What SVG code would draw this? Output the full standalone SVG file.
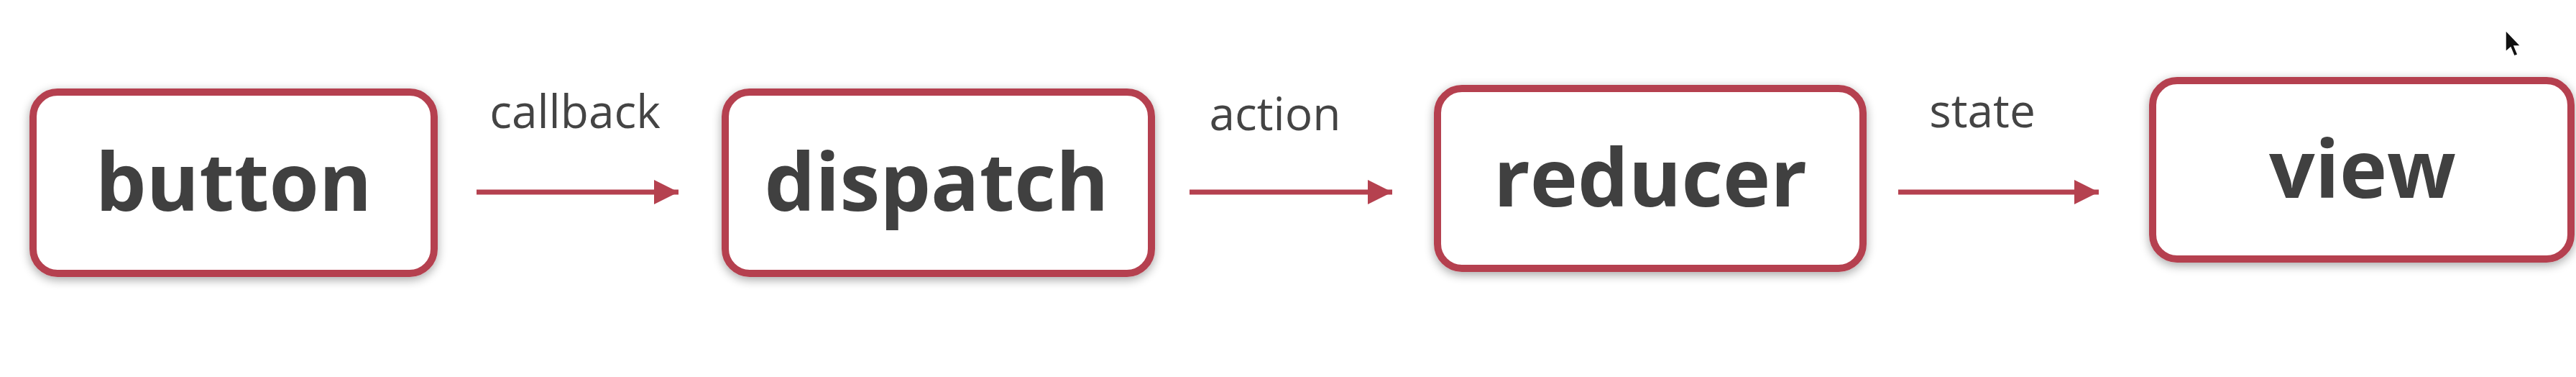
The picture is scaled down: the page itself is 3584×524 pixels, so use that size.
<svg xmlns="http://www.w3.org/2000/svg" width="3584" height="524" viewBox="0 0 3584 524">
<style>
.box{fill:#ffffff;stroke:#b5414f;stroke-width:10;filter:url(#sh)}
.lbl{font-family:"Open Sans","DejaVu Sans",sans-serif;font-weight:700;font-size:112px;fill:#404040;text-anchor:middle}
.edge{font-family:"Open Sans","DejaVu Sans",sans-serif;font-size:64px;fill:#444444;text-anchor:middle}
.arr{stroke:#b5414f;stroke-width:7;fill:none;marker-end:url(#ah)}
</style>
<defs>
<filter id="sh" x="-10%" y="-20%" width="120%" height="140%">
<feGaussianBlur in="SourceAlpha" stdDeviation="7"/>
<feOffset dx="0" dy="4" result="b"/>
<feComponentTransfer><feFuncA type="linear" slope="0.35"/></feComponentTransfer>
<feMerge><feMergeNode/><feMergeNode in="SourceGraphic"/></feMerge>
</filter>
<marker id="ah" markerUnits="userSpaceOnUse" markerWidth="34" markerHeight="34" refX="34" refY="17" orient="auto">
<path d="M0,0 L34,17 L0,34 Z" fill="#b5414f"/>
</marker>
</defs>
<rect width="3584" height="524" fill="#ffffff"/>
<g id="connectors">
<line class="arr" x1="663" y1="267" x2="944" y2="267"/>
<line class="arr" x1="1655" y1="267" x2="1937" y2="267"/>
<line class="arr" x1="2641" y1="267" x2="2920" y2="267"/>
<text class="edge" x="800" y="178">callback</text>
<text class="edge" x="1774" y="181">action</text>
<text class="edge" x="2758" y="177">state</text>
</g>
<g id="node-button">
<rect class="box" x="46" y="128" width="558" height="252" rx="34"/>
<text class="lbl" x="325" y="293">button</text>
</g>
<g id="node-dispatch">
<rect class="box" x="1009" y="128" width="593" height="252" rx="34"/>
<text class="lbl" x="1303" y="293">dispatch</text>
</g>
<g id="node-reducer">
<rect class="box" x="2000" y="123" width="592" height="250" rx="34"/>
<text class="lbl" x="2296" y="287">reducer</text>
</g>
<g id="node-view">
<rect class="box" x="2995" y="112" width="582" height="248" rx="34"/>
<text class="lbl" x="3287" y="275">view</text>
</g>
<path d="M3486,42 L3486,72 L3493,66 L3498,78 L3503,76 L3498,64 L3507,64 Z" fill="#111" stroke="#fff" stroke-width="1.5"/>
</svg>
